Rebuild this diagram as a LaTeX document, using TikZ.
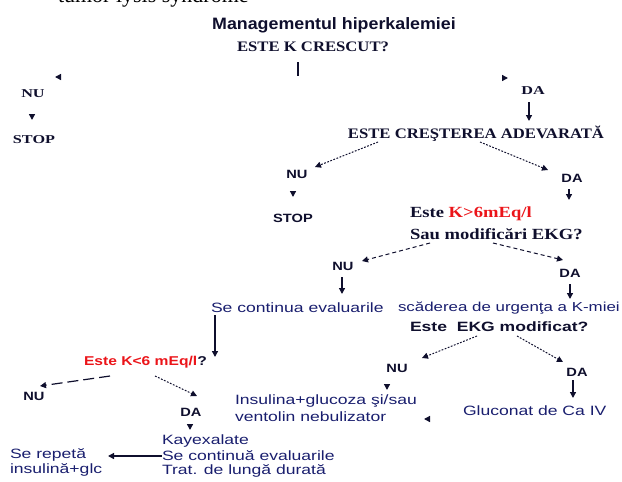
\documentclass[tikz,border=0pt]{standalone}
\usepackage{fontspec}
\setmainfont{Liberation Serif}
\usetikzlibrary{arrows.meta}
\newfontfamily\bodyf[FakeStretch=1.3]{Liberation Sans}
\newfontfamily\labf[FakeStretch=1.22]{Liberation Sans}
\newfontfamily\titf[FakeStretch=1.08]{Liberation Sans}
\newfontfamily\serf[FakeStretch=1.15]{Liberation Serif}
\newfontfamily\serqf[FakeStretch=1.2]{Liberation Serif}
\newfontfamily\sersf[FakeStretch=1.35]{Liberation Serif}
\definecolor{navy}{RGB}{25,30,110}
\definecolor{ink}{RGB}{15,15,45}
\definecolor{kred}{RGB}{235,20,25}
\tikzset{
  every node/.style={inner sep=0pt, outer sep=0pt},
  body/.style={font=\bodyf\fontsize{13.5}{15.5}\selectfont, text=navy, anchor=west},
  bodyb/.style={font=\bodyf\bfseries\fontsize{13.5}{15.5}\selectfont, text=ink, anchor=west},
  lab/.style={font=\labf\bfseries\fontsize{12}{14}\selectfont, text=ink},
  slab/.style={font=\sersf\bfseries\fontsize{12}{14}\selectfont, text=ink},
  serq/.style={font=\serf\bfseries\fontsize{14.5}{17}\selectfont, text=ink},
  serq3/.style={font=\serqf\bfseries\fontsize{15.5}{18}\selectfont, text=ink, anchor=west},
  titlef/.style={font=\titf\bfseries\fontsize{16.5}{19}\selectfont, text=ink},
  plain/.style={draw=ink, line width=1.3pt},
  conn/.style={plain, -{Triangle[length=6pt,width=6pt]}},
  dotc/.style={conn, line width=1pt, dash pattern=on 1.8pt off 1.5pt},
  dashc/.style={conn, line width=1pt, dash pattern=on 4pt off 3pt},
  ldash/.style={conn, line width=1.2pt, dash pattern=on 11pt off 5pt}
}
\begin{document}
\begin{tikzpicture}[x=1pt,y=-1pt]
\useasboundingbox (0,0) rectangle (622,482);
\clip (0,0) rectangle (622,482);
% clipped document line at the top
\node[font=\fontsize{22}{24}\selectfont, anchor=base west] (doc) at (58,2.5) {tumor lysis syndrome};
% title and first question
\node[titlef] (title) at (334,25) {Managementul hiperkalemiei};
\node[serq] (q1) at (313,47) {ESTE K CRESCUT?};
\coordinate (v0) at (298,62); \coordinate (v1) at (298,76);
\draw[plain] (v0) -- (v1);
% orphan arrow tips
\coordinate (t1) at (55,77);  \draw[conn] ([xshift=3pt]t1) -- (t1);
\coordinate (t2) at (508,78); \draw[conn] ([xshift=-3pt]t2) -- (t2);
% left branch
\node[slab] (nu1) at (33,94) {NU};
\coordinate (t3) at (32,120); \draw[conn] ([yshift=3pt]t3) -- (t3);
\node[slab] (stop1) at (34,140) {STOP};
% right branch
\node[slab] (da1) at (533,91) {DA};
\coordinate (a1s) at (529,102); \coordinate (a1e) at (529,121);
\draw[conn] (a1s) -- (a1e);
\node[serq] (q2) at (476,134) {ESTE CREŞTEREA ADEVARATĂ};
\coordinate (q2l) at (378,142); \coordinate (q2r) at (480,142);
\coordinate (nu2e) at (315,167); \coordinate (da2e) at (548,170);
\draw[dotc] (q2l) -- (nu2e);
\draw[dotc] (q2r) -- (da2e);
\node[lab] (nu2) at (297,174) {NU};
\coordinate (t4) at (293,197); \draw[conn] ([yshift=3pt]t4) -- (t4);
\node[lab] (stop2) at (293,218) {STOP};
\node[lab] (da2) at (572,178) {DA};
\coordinate (a2s) at (569,189); \coordinate (a2e) at (569,200);
\draw[conn] (a2s) -- (a2e);
% K > 6 question
\node[serq3] (q3a) at (410,214) {Este \textcolor{kred}{K>6mEq/l}};
\node[serq3] (q3b) at (410,234) {Sau modificări EKG?};
\coordinate (q3l) at (430,243); \coordinate (q3r) at (493,243);
\coordinate (nu3e) at (362,261); \coordinate (da3e) at (563,260);
\draw[dashc] (q3l) -- (nu3e);
\draw[dashc] (q3r) -- (da3e);
\node[lab] (nu3) at (343,266) {NU};
\coordinate (a3s) at (342,277); \coordinate (a3e) at (342,294);
\draw[conn] (a3s) -- (a3e);
\node[lab] (da3) at (570,273) {DA};
\coordinate (a4s) at (570,284); \coordinate (a4e) at (570,299);
\draw[conn] (a4s) -- (a4e);
\node[body] (cont) at (211,308) {Se continua evaluarile};
\node[body, font=\bodyf\fontsize{13}{15}\selectfont] (scad) at (398,308) {scăderea de urgenţa a K-miei};
\node[bodyb] (q4) at (410,327) {Este \ EKG modificat?};
% K < 6 question
\coordinate (a5s) at (215,315); \coordinate (a5e) at (215,357);
\draw[conn] (a5s) -- (a5e);
\node[lab, anchor=west, font=\labf\bfseries\fontsize{12.8}{15}\selectfont] (q5) at (84,362) {\textcolor{kred}{Este K<6 mEq/l}?};
\coordinate (q5l) at (110,376); \coordinate (nu5e) at (40,386);
\coordinate (q5r) at (155,376); \coordinate (da5e) at (197,396);
\draw[ldash] (q5l) -- (nu5e);
\draw[dotc] (q5r) -- (da5e);
\node[lab] (nu5) at (34,396) {NU};
\node[lab] (da5) at (191,412) {DA};
\coordinate (t5) at (190,430); \draw[conn] ([yshift=3pt]t5) -- (t5);
\node[body] (kay1) at (162,441) {Kayexalate};
\node[body] (kay2) at (162,456) {Se continuă evaluarile};
\node[body] (kay3) at (162,471) {Trat. de lungă durată};
\coordinate (repe) at (108,456);
\draw[conn] (kay2.west) -- (repe);
\node[body] (rep1) at (10,455) {Se repetă};
\node[body] (rep2) at (10,470) {insulină+glc};
% EKG modified question
\coordinate (q4l) at (477,336); \coordinate (nu6e) at (422,358);
\coordinate (q4r) at (517,336); \coordinate (da6e) at (563,362);
\draw[dotc] (q4l) -- (nu6e);
\draw[dotc] (q4r) -- (da6e);
\node[lab] (nu6) at (397,368) {NU};
\coordinate (t6) at (387,390); \draw[conn] ([yshift=3pt]t6) -- (t6);
\node[lab] (da6) at (577,372) {DA};
\coordinate (a6s) at (573,380); \coordinate (a6e) at (573,398);
\draw[conn] (a6s) -- (a6e);
\node[body] (ins1) at (235,401) {Insulina+glucoza şi/sau};
\node[body] (ins2) at (235,417) {ventolin nebulizator};
\coordinate (t7) at (424,419); \draw[conn] ([xshift=3pt]t7) -- (t7);
\node[body] (gluc) at (463,411) {Gluconat de Ca IV};
\end{tikzpicture}
\end{document}
